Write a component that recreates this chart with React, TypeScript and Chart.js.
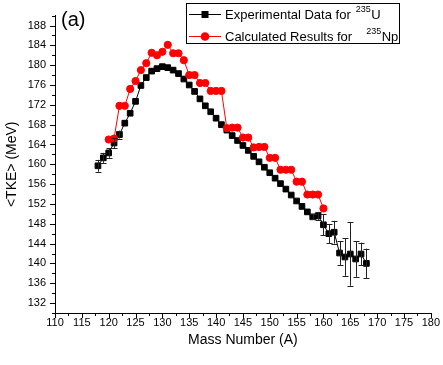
import React, { useEffect, useRef } from 'react';
import { Chart, registerables } from 'chart.js';

Chart.register(...registerables);

const FONT = 'Arial, "Liberation Sans", sans-serif';

// ---- data ----
const expMass = [118, 119, 120, 121, 122, 123, 124, 125, 126, 127, 128, 129, 130, 131, 132, 133, 134, 135, 136, 137, 138, 139, 140, 141, 142, 143, 144, 145, 146, 147, 148, 149, 150, 151, 152, 153, 154, 155, 156, 157, 158, 159, 160, 161, 162, 163, 164, 165, 166, 167, 168];
const expTKE = [159.7, 161.3, 162.3, 164.3, 166.0, 168.3, 170.3, 172.7, 175.9, 177.5, 178.8, 179.3, 179.7, 179.5, 179.0, 178.3, 177.2, 176.0, 174.7, 173.2, 171.8, 170.6, 169.3, 168.0, 166.9, 165.8, 164.8, 163.8, 162.8, 161.6, 160.5, 159.4, 158.3, 157.2, 156.1, 155.0, 153.8, 152.6, 151.5, 150.4, 149.4, 149.6, 147.8, 146.0, 146.3, 142.1, 141.3, 141.9, 140.9, 141.9, 140.0];
const expErr = [1.2, 1.0, 1.0, 1.0, 0.8, 0, 0, 0, 0, 0, 0, 0, 0, 0, 0, 0, 0, 0, 0, 0, 0, 0, 0, 0, 0, 0, 0, 0, 0, 0, 0, 0, 0, 0, 0, 0, 0, 0, 0, 0, 0.5, 0.8, 2.1, 1.9, 2.3, 2.4, 3.8, 6.4, 3.6, 2.3, 3.0];

const calcMass = [120, 121, 122, 123, 124, 125, 126, 127, 128, 129, 130, 131, 132, 133, 134, 135, 136, 137, 138, 139, 140, 141, 142, 143, 144, 145, 146, 147, 148, 149, 150, 151, 152, 153, 154, 155, 156, 157, 158, 159, 160];
const calcTKE = [165.0, 165.2, 171.8, 171.8, 175.2, 176.8, 179.0, 180.4, 182.5, 182.0, 182.7, 184.1, 182.4, 182.4, 181.0, 178.0, 178.0, 176.4, 176.4, 174.8, 174.8, 174.8, 167.3, 167.4, 167.4, 165.4, 165.4, 163.4, 163.5, 163.5, 161.3, 161.3, 158.9, 158.9, 158.9, 156.5, 156.5, 153.9, 153.9, 153.9, 151.1];

const xTickLabels = [110, 115, 120, 125, 130, 135, 140, 145, 150, 155, 160, 165, 170, 175, 180];
const yTickLabels = [132, 136, 140, 144, 148, 152, 156, 160, 164, 168, 172, 176, 180, 184, 188];

const legendMain = ['Experimental Data for', 'Calculated Results for'];
const legendSup = ['235', '235'];
const legendElem = ['U', 'Np'];
const seriesColors = ['#000000', '#ff0000'];

const errorBarPlugin = {
  id: 'errorBars',
  afterDatasetsDraw(chart: any) {
    const { ctx } = chart;
    const xs = chart.scales.x;
    const ys = chart.scales.y;
    ctx.save();
    ctx.strokeStyle = '#222';
    ctx.lineWidth = 1;
    expMass.forEach((m, i) => {
      const e = expErr[i];
      if (!e) return;
      const x = Math.round(xs.getPixelForValue(m)) + 0.5;
      const yTop = ys.getPixelForValue(expTKE[i] + e);
      const yBot = ys.getPixelForValue(expTKE[i] - e);
      ctx.beginPath();
      ctx.moveTo(x, yTop);
      ctx.lineTo(x, yBot);
      ctx.moveTo(x - 3, Math.round(yTop) + 0.5);
      ctx.lineTo(x + 3, Math.round(yTop) + 0.5);
      ctx.moveTo(x - 3, Math.round(yBot) + 0.5);
      ctx.lineTo(x + 3, Math.round(yBot) + 0.5);
      ctx.stroke();
    });
    ctx.restore();
  },
};

const axisTickPlugin = {
  id: 'axisTicks',
  afterDraw(chart: any) {
    const { ctx, chartArea } = chart;
    const xs = chart.scales.x;
    const ys = chart.scales.y;
    ctx.save();
    ctx.strokeStyle = '#000';
    ctx.lineWidth = 1;
    ctx.beginPath();
    xs.ticks.forEach((t: any) => {
      const major = xTickLabels.includes(t.value);
      const x = Math.round(xs.getPixelForValue(t.value)) + 0.5;
      ctx.moveTo(x, chartArea.bottom);
      ctx.lineTo(x, chartArea.bottom + (major ? 5 : 3));
    });
    ys.ticks.forEach((t: any) => {
      const major = yTickLabels.includes(t.value);
      const y = Math.round(ys.getPixelForValue(t.value)) + 0.5;
      ctx.moveTo(chartArea.left, y);
      ctx.lineTo(chartArea.left - (major ? 5 : 3), y);
    });
    ctx.stroke();
    ctx.restore();
  },
};

const legendPlugin = {
  id: 'customLegend',
  afterDraw(chart: any) {
    const { ctx } = chart;
    ctx.save();
    ctx.fillStyle = '#000';
    ctx.textBaseline = 'middle';
    ctx.textAlign = 'left';
    ctx.font = `20px ${FONT}`;
    ctx.fillText('(a)', 61, 20);

    ctx.strokeStyle = '#000';
    ctx.lineWidth = 1;
    ctx.strokeRect(186.5, 3.5, 213, 40);

    const rowsY = [14, 36];
    const supGap = [5, 14];
    legendMain.forEach((txt, i) => {
      const y = rowsY[i];
      const c = seriesColors[i];
      ctx.strokeStyle = c;
      ctx.fillStyle = c;
      ctx.beginPath();
      ctx.moveTo(189, y + 0.5);
      ctx.lineTo(221, y + 0.5);
      ctx.stroke();
      if (i === 0) {
        ctx.fillRect(201.5, y - 3, 7, 7);
      } else {
        ctx.beginPath();
        ctx.arc(205, y + 0.5, 4.3, 0, Math.PI * 2);
        ctx.fill();
      }
      ctx.fillStyle = '#000';
      ctx.font = `13px ${FONT}`;
      ctx.fillText(txt, 225, y + 1);
      const tw = ctx.measureText(txt).width;
      const sx = 225 + tw + supGap[i];
      ctx.font = `9px ${FONT}`;
      ctx.fillText(legendSup[i], sx, y - 4);
      const sw = ctx.measureText(legendSup[i]).width;
      ctx.font = `13px ${FONT}`;
      ctx.fillText(legendElem[i], sx + sw + 0.5, y + 1);
    });
    ctx.restore();
  },
};

export default function App() {
  const ref = useRef<HTMLCanvasElement>(null);
  useEffect(() => {
    const canvas = ref.current!;
    const chart = new Chart(canvas, {
      type: 'line',
      data: {
        datasets: [
          {
            label: legendMain[1] + ' ' + legendSup[1] + legendElem[1],
            data: calcMass.map((m, i) => ({ x: m, y: calcTKE[i] })),
            borderColor: seriesColors[1],
            backgroundColor: seriesColors[1],
            pointBackgroundColor: seriesColors[1],
            pointBorderColor: seriesColors[1],
            pointStyle: 'circle',
            pointRadius: 3.6,
            pointBorderWidth: 1,
            borderWidth: 1,
            order: 0,
          },
          {
            label: legendMain[0] + ' ' + legendSup[0] + legendElem[0],
            data: expMass.map((m, i) => ({ x: m, y: expTKE[i] })),
            borderColor: seriesColors[0],
            backgroundColor: seriesColors[0],
            pointBackgroundColor: seriesColors[0],
            pointBorderColor: seriesColors[0],
            pointStyle: 'rect',
            pointRadius: 4,
            pointBorderWidth: 1,
            borderWidth: 1,
            order: 1,
          },
        ],
      },
      options: {
        responsive: false,
        animation: false,
        devicePixelRatio: 1,
        layout: { padding: { top: 14, right: 9, left: 0, bottom: 0 } },
        plugins: { legend: { display: false }, tooltip: { enabled: false } },
        scales: {
          x: {
            type: 'linear',
            min: 110,
            max: 180,
            grid: { display: false, drawTicks: false },
            border: { display: true, color: '#000', width: 1 },
            ticks: {
              stepSize: 2.5,
              autoSkip: false,
              maxRotation: 0,
              padding: 3,
              color: '#000',
              font: { family: FONT, size: 11 },
              callback: (v: any) => (xTickLabels.includes(v) ? String(v) : ''),
            },
            title: {
              display: true,
              text: 'Mass Number (A)',
              color: '#000',
              font: { family: FONT, size: 14 },
              padding: { top: 0, bottom: 16 },
            },
            afterFit: (s: any) => {
              s.height = 52;
            },
          },
          y: {
            type: 'linear',
            min: 130,
            max: 190,
            grid: { display: false, drawTicks: false },
            border: { display: true, color: '#000', width: 1 },
            ticks: {
              stepSize: 2,
              autoSkip: false,
              padding: 9,
              color: '#000',
              font: { family: FONT, size: 11 },
              callback: (v: any) => (yTickLabels.includes(v) ? String(v) : ''),
            },
            title: {
              display: true,
              text: '<TKE> (MeV)',
              color: '#000',
              font: { family: FONT, size: 14 },
              padding: { top: 4, bottom: 0 },
            },
            afterFit: (s: any) => {
              s.width = 55;
            },
          },
        },
      },
      plugins: [errorBarPlugin, axisTickPlugin, legendPlugin],
    } as any);
    return () => chart.destroy();
  }, []);
  return (
    <div style={{ position: 'absolute', left: 0, top: 0, width: 443, height: 365, background: '#fff' }}>
      <canvas ref={ref} width={443} height={365} />
    </div>
  );
}
